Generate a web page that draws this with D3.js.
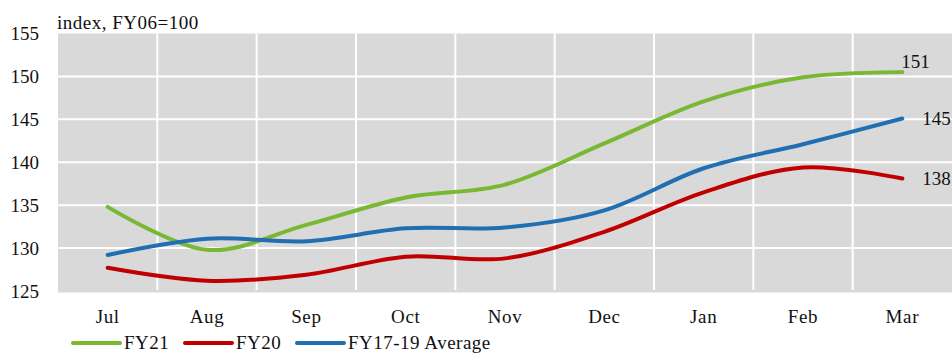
<!DOCTYPE html>
<html><head><meta charset="utf-8">
<script src="https://cdn.jsdelivr.net/npm/d3@7"></script>
<style>
html,body{margin:0;padding:0;background:#fff;}
svg{display:block;}
svg text{font-family:"Liberation Serif","DejaVu Serif",serif;fill:#111;}
</style></head>
<body>
<svg id="chart" width="952" height="354"></svg>
<script>
const months = ["Jul","Aug","Sep","Oct","Nov","Dec","Jan","Feb","Mar"];
const fy21 = [134.8, 129.8, 132.7, 135.9, 137.4, 142.2, 147.1, 149.9, 150.5];
const fy20 = [127.7, 126.2, 126.9, 129.0, 128.8, 131.9, 136.5, 139.4, 138.1];
const avg1719 = [129.2, 131.1, 130.8, 132.3, 132.4, 134.4, 139.3, 142.1, 145.1];
const yTicks = [125, 130, 135, 140, 145, 150, 155];
const seriesNames = ["FY21", "FY20", "FY17-19 Average"];
const seriesColors = ["#78b833", "#c00000", "#1f6fb2"];
const endLabels = ["151", "138", "145"];

const series = [fy21, fy20, avg1719].map((v,i)=>({name:seriesNames[i], color:seriesColors[i], values:v, label:endLabels[i]}));

const FS = 19;
const svg = d3.select("#chart");
const m = {left:58, right:0, top:33.5, bottom:63};
const W = 952, H = 354;
const x = d3.scaleBand().domain(months).range([m.left, W - m.right]).paddingInner(0).paddingOuter(0);
const y = d3.scaleLinear().domain([125,155]).range([H - m.bottom, m.top]);

// plot background
svg.append("rect").attr("x", m.left).attr("y", m.top)
  .attr("width", W - m.right - m.left).attr("height", H - m.bottom - m.top + 1.5)
  .attr("fill", "#d9d9d9");

// horizontal gridlines
svg.append("g").selectAll("line").data(yTicks.slice(1,-1)).join("line")
  .attr("x1", m.left).attr("x2", W - m.right)
  .attr("y1", d=>y(d)).attr("y2", d=>y(d))
  .attr("stroke", "#fff").attr("stroke-width", 2);

// vertical gridlines at band boundaries
svg.append("g").selectAll("line").data(months.slice(1)).join("line")
  .attr("x1", d=>x(d)).attr("x2", d=>x(d))
  .attr("y1", m.top).attr("y2", H - m.bottom - 1)
  .attr("stroke", "#fff").attr("stroke-width", 2);

// y axis labels
const yAxis = d3.axisLeft(y).tickValues(yTicks).tickSize(0).tickPadding(0);
const gy = svg.append("g").attr("transform", `translate(${m.left - 19},0)`).call(yAxis)
  .attr("font-family", null).attr("font-size", FS);
gy.select(".domain").remove();
gy.selectAll("text").attr("fill", "#111");

// x axis labels
const xAxis = d3.axisBottom(x).tickSize(0).tickPadding(0);
const gx = svg.append("g").attr("transform", `translate(0,${H - m.bottom + 18})`).call(xAxis)
  .attr("font-family", null).attr("font-size", FS);
gx.select(".domain").remove();
gx.selectAll("text").attr("fill", "#111").attr("letter-spacing", 0.6);

// title
svg.append("text").attr("x", 57).attr("y", 28.5).attr("font-size", FS)
  .attr("letter-spacing", 0.5).text("index, FY06=100");

// lines
const cx = d => x(d) + x.bandwidth()/2;
const line = d3.line().x((d,i)=>cx(months[i])).y(d=>y(d)).curve(d3.curveCatmullRom.alpha(0));
svg.append("g").selectAll("path").data(series).join("path")
  .attr("d", d=>line(d.values))
  .attr("fill", "none").attr("stroke", d=>d.color)
  .attr("stroke-width", 4).attr("stroke-linecap", "round");

// end labels
const last = months[months.length-1];
const labelOffsets = [{dx:-1, dy:-11}, {dx:20, dy:0}, {dx:20, dy:0}];
svg.append("g").selectAll("text").data(series).join("text")
  .attr("x", (d,i)=>cx(last) + labelOffsets[i].dx)
  .attr("y", (d,i)=>y(d.values[d.values.length-1]) + labelOffsets[i].dy)
  .attr("dy", "0.35em").attr("font-size", FS)
  .text(d=>d.label);

// legend
const legendX = [73, 185, 297];
const lg = svg.append("g").selectAll("g").data(series).join("g")
  .attr("transform", (d,i)=>`translate(${legendX[i]},343)`);
lg.append("line").attr("x1", 0).attr("x2", 47).attr("y1", 0).attr("y2", 0)
  .attr("stroke", d=>d.color).attr("stroke-width", 4).attr("stroke-linecap", "round");
lg.append("text").attr("x", 51).attr("y", 0).attr("dy", "0.3em").attr("font-size", FS)
  .attr("letter-spacing", 0.5).text(d=>d.name);
</script>
</body></html>
